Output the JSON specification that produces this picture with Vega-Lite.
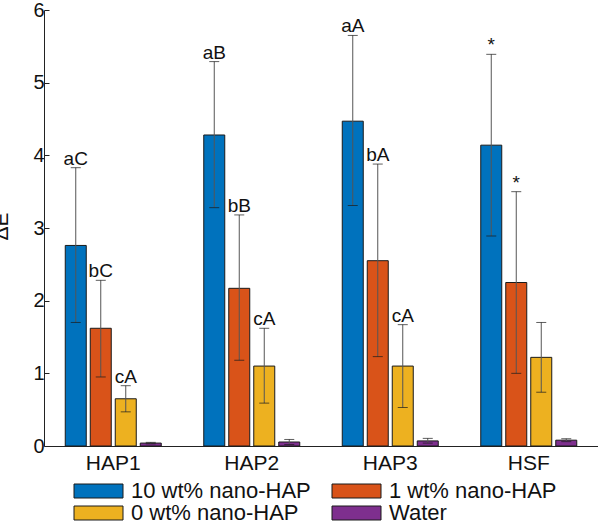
{
  "$schema": "https://vega.github.io/schema/vega-lite/v6.json",
  "width": 554,
  "height": 436,
  "autosize": {"type": "none"},
  "padding": {"left": 44, "top": 10, "right": 0, "bottom": 75},
  "background": "white",
  "config": {
    "font": "Liberation Sans",
    "view": {"stroke": null},
    "axis": {"grid": false, "domainColor": "#222", "tickColor": "#222", "labelColor": "#111", "titleColor": "#111", "labelFont": "Liberation Sans", "titleFont": "Liberation Sans"}
  },
  "data": {
    "values": [
      {"group": "HAP1", "series": "10 wt% nano-HAP", "mean": 2.76, "lo": 1.70, "hi": 3.83, "label": "aC"},
      {"group": "HAP1", "series": "1 wt% nano-HAP", "mean": 1.62, "lo": 0.95, "hi": 2.28, "label": "bC"},
      {"group": "HAP1", "series": "0 wt% nano-HAP", "mean": 0.65, "lo": 0.47, "hi": 0.83, "label": "cA"},
      {"group": "HAP1", "series": "Water", "mean": 0.04, "lo": 0.03, "hi": 0.05, "label": ""},
      {"group": "HAP2", "series": "10 wt% nano-HAP", "mean": 4.28, "lo": 3.28, "hi": 5.29, "label": "aB"},
      {"group": "HAP2", "series": "1 wt% nano-HAP", "mean": 2.17, "lo": 1.18, "hi": 3.18, "label": "bB"},
      {"group": "HAP2", "series": "0 wt% nano-HAP", "mean": 1.10, "lo": 0.59, "hi": 1.62, "label": "cA"},
      {"group": "HAP2", "series": "Water", "mean": 0.055, "lo": 0.02, "hi": 0.09, "label": ""},
      {"group": "HAP3", "series": "10 wt% nano-HAP", "mean": 4.47, "lo": 3.31, "hi": 5.65, "label": "aA"},
      {"group": "HAP3", "series": "1 wt% nano-HAP", "mean": 2.55, "lo": 1.23, "hi": 3.88, "label": "bA"},
      {"group": "HAP3", "series": "0 wt% nano-HAP", "mean": 1.10, "lo": 0.53, "hi": 1.67, "label": "cA"},
      {"group": "HAP3", "series": "Water", "mean": 0.07, "lo": 0.04, "hi": 0.105, "label": ""},
      {"group": "HSF", "series": "10 wt% nano-HAP", "mean": 4.14, "lo": 2.89, "hi": 5.39, "label": "*"},
      {"group": "HSF", "series": "1 wt% nano-HAP", "mean": 2.25, "lo": 1.00, "hi": 3.50, "label": "*"},
      {"group": "HSF", "series": "0 wt% nano-HAP", "mean": 1.22, "lo": 0.74, "hi": 1.70, "label": ""},
      {"group": "HSF", "series": "Water", "mean": 0.08, "lo": 0.06, "hi": 0.10, "label": ""}
    ]
  },
  "encoding": {
    "x": {
      "field": "group", "type": "nominal",
      "scale": {"paddingInner": 0, "paddingOuter": 0},
      "axis": {"title": null, "labelAngle": 0, "ticks": false, "labelFontSize": 21, "labelPadding": 6, "domainWidth": 1}
    },
    "xOffset": {
      "field": "series", "type": "nominal",
      "sort": ["10 wt% nano-HAP", "1 wt% nano-HAP", "0 wt% nano-HAP", "Water"],
      "scale": {"paddingInner": 0.16, "paddingOuter": 0.85}
    }
  },
  "layer": [
    {
      "mark": {"type": "bar", "stroke": "#1a1a1a", "strokeWidth": 1},
      "encoding": {
        "y": {
          "field": "mean", "type": "quantitative",
          "scale": {"domain": [0, 6], "nice": false},
          "axis": {"title": "ΔE", "titleFontSize": 21, "titleFontWeight": "normal", "titleAngle": -90, "titleX": -33, "titleY": 216, "titleAlign": "center", "titleBaseline": "bottom", "values": [0, 1, 2, 3, 4, 5, 6], "format": "d", "labelFontSize": 20, "tickSize": -5, "labelPadding": 5}
        },
        "fill": {
          "field": "series", "type": "nominal",
          "sort": ["10 wt% nano-HAP", "1 wt% nano-HAP", "0 wt% nano-HAP", "Water"],
          "scale": {"domain": ["10 wt% nano-HAP", "1 wt% nano-HAP", "0 wt% nano-HAP", "Water"], "range": ["#0072BD", "#D95319", "#EDB120", "#7E2F8E"]},
          "legend": {
            "title": null, "orient": "none", "legendX": 26, "legendY": 470,
            "direction": "horizontal", "columns": 2,
            "symbolType": "M-1,-1H6V1H-1Z", "symbolSize": 196,
            "symbolStrokeColor": "#1a1a1a", "symbolStrokeWidth": 1, "symbolOpacity": 1,
            "labelFontSize": 22, "labelOffset": 39, "labelColor": "#111",
            "columnPadding": 17, "rowPadding": 0, "labelLimit": 300
          }
        }
      }
    },
    {
      "mark": {"type": "rule", "color": "#555", "strokeWidth": 1},
      "encoding": {
        "y": {"field": "lo", "type": "quantitative"},
        "y2": {"field": "hi"}
      }
    },
    {
      "mark": {"type": "tick", "color": "#1a1a1a", "thickness": 1, "size": 10, "orient": "horizontal"},
      "encoding": {"y": {"field": "hi", "type": "quantitative"}}
    },
    {
      "mark": {"type": "tick", "color": "#1a1a1a", "thickness": 1, "size": 10, "orient": "horizontal"},
      "encoding": {"y": {"field": "lo", "type": "quantitative"}}
    },
    {
      "mark": {"type": "text", "baseline": "alphabetic", "align": "center", "dy": -3, "fontSize": 19, "color": "#111"},
      "encoding": {
        "y": {"field": "hi", "type": "quantitative"},
        "text": {"field": "label"}
      }
    }
  ]
}
